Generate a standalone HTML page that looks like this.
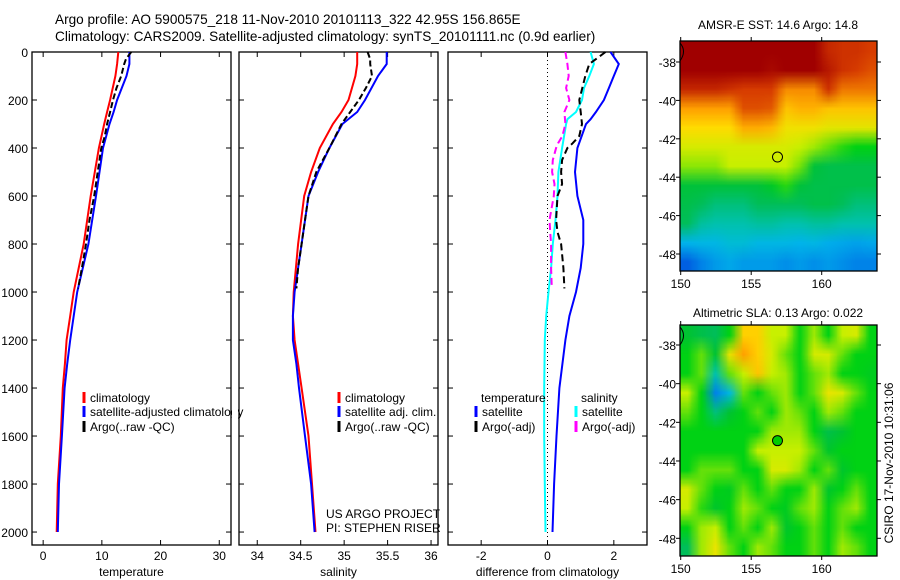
<!DOCTYPE html>
<html><head><meta charset="utf-8"><style>
html,body{margin:0;padding:0;background:#fff;width:900px;height:580px;overflow:hidden}
svg{display:block;font-family:"Liberation Sans",sans-serif}
canvas{position:absolute}
</style></head><body>
<canvas id="sst" style="left:680px;top:41px" width="197" height="230"></canvas>
<canvas id="sla" style="left:680px;top:325px" width="197" height="231"></canvas>
<svg id="chart" width="900" height="580" style="position:absolute;left:0;top:0">
<text x="55" y="24" font-size="13.6">Argo profile: AO 5900575_218 11-Nov-2010 20101113_322 42.95S 156.865E</text>
<text x="55" y="41" font-size="13.6">Climatology: CARS2009. Satellite-adjusted climatology: synTS_20101111.nc (0.9d earlier)</text>
<text x="778" y="29" font-size="12" text-anchor="middle">AMSR-E SST: 14.6 Argo: 14.8</text>
<text x="778" y="317" font-size="12" text-anchor="middle">Altimetric SLA: 0.13 Argo: 0.022</text>
<text transform="translate(893,463) rotate(-90)" font-size="12" text-anchor="middle">CSIRO 17-Nov-2010 10:31:06</text>
<text x="326" y="518" font-size="12">US ARGO PROJECT</text>
<text x="326" y="532" font-size="12">PI: STEPHEN RISER</text>
</svg>
<script>
// ---------- data ----------
const depthClim = [0,50,100,200,250,300,400,500,600,800,1000,1100,1200,1300,1400,1600,1800,2000];
const tempClim  = [12.8,12.6,12.3,11.4,10.9,10.4,9.5,8.8,8.1,6.9,5.2,4.6,4.0,3.7,3.35,3.0,2.5,2.3];
const tempSat   = [14.7,14.7,14.2,12.6,12.0,11.3,10.2,9.6,9.0,7.7,5.8,5.2,4.6,4.1,3.65,3.2,2.7,2.5];
const salClim   = [35.15,35.15,35.13,35.05,34.97,34.87,34.72,34.62,34.54,34.47,34.42,34.41,34.43,34.47,34.51,34.59,34.63,34.67];
const salSat    = [35.49,35.49,35.39,35.24,35.15,34.98,34.83,34.70,34.59,34.51,34.43,34.41,34.41,34.45,34.48,34.55,34.62,34.66];
const depthArgo = [0,30,50,100,150,200,250,300,350,400,500,600,700,800,900,985];
const tempArgo  = [15.0,14.1,13.8,13.3,12.5,11.9,11.4,10.9,10.5,9.9,9.3,8.7,7.9,7.3,6.6,5.96];
const salArgo   = [35.27,35.3,35.3,35.32,35.25,35.17,35.07,34.97,34.9,34.83,34.68,34.59,34.55,34.51,34.47,34.45];
const depthDiff = [0,50,100,150,200,250,280,300,400,500,600,700,800,900,1000,1100,1200,1400,1600,1800,2000];
const dTempSat  = [1.9,2.15,2.0,1.85,1.7,1.46,1.3,1.16,0.9,0.83,0.9,1.08,1.08,1.0,0.86,0.66,0.54,0.36,0.27,0.2,0.15];
const dSalSat   = [1.3,1.4,1.26,1.1,1.04,0.86,0.6,0.56,0.44,0.33,0.3,0.24,0.16,0.11,0.03,-0.04,-0.08,-0.1,-0.1,-0.08,-0.06];
const depthArgoDiff = [0,50,100,150,200,250,300,350,380,400,450,500,550,600,700,750,800,900,985];
const dTempArgo = [1.75,1.26,1.14,1.05,0.96,1.0,1.04,0.96,0.76,0.6,0.44,0.41,0.44,0.3,0.26,0.3,0.41,0.48,0.51];
const dSalArgo  = [0.54,0.6,0.64,0.56,0.66,0.51,0.54,0.45,0.32,0.26,0.16,0.14,0.21,0.19,0.06,0.08,0.11,0.11,0.13];
const depthTicks = [0,200,400,600,800,1000,1200,1400,1600,1800,2000];
const tempTicks = [0,10,20,30];
const salTicks = [34,34.5,35,35.5,36];
const salTickLabels = ["34","34.5","35","35.5","36"];
const diffTicks = [-2,0,2];
const latTicks = [-38,-40,-42,-44,-46,-48];
const lonTicks = [150,155,160];
const argoLon = 156.865, argoLat = -42.95;
const sstGrid = [
[1,1,1,1,1,1,1,1,1,1,0.92,0.9,0.9,0.88],
[1,1,1,1,1,1,0.98,1,1,1,0.95,0.9,0.88,0.86],
[0.92,0.92,0.92,0.9,0.88,0.88,0.88,0.8,0.8,0.8,0.9,0.82,0.82,0.82],
[0.78,0.78,0.78,0.78,0.86,0.86,0.85,0.72,0.75,0.75,0.72,0.72,0.72,0.72],
[0.68,0.68,0.68,0.68,0.76,0.76,0.74,0.66,0.66,0.66,0.64,0.64,0.64,0.64],
[0.62,0.62,0.62,0.62,0.62,0.62,0.62,0.62,0.6,0.58,0.55,0.52,0.5,0.5],
[0.57,0.57,0.57,0.6,0.6,0.6,0.6,0.6,0.56,0.44,0.42,0.42,0.42,0.42],
[0.44,0.44,0.44,0.44,0.44,0.44,0.47,0.52,0.44,0.42,0.42,0.42,0.42,0.42],
[0.42,0.4,0.38,0.38,0.38,0.4,0.4,0.4,0.4,0.42,0.42,0.4,0.38,0.38],
[0.4,0.36,0.35,0.35,0.35,0.36,0.36,0.35,0.35,0.36,0.36,0.35,0.35,0.35],
[0.28,0.29,0.29,0.31,0.31,0.29,0.29,0.29,0.28,0.29,0.27,0.26,0.25,0.26],
[0.14,0.2,0.24,0.26,0.24,0.24,0.24,0.22,0.24,0.22,0.24,0.22,0.2,0.2]];
const slaGrid = [
[0.45,0.42,0.4,0.5,0.7,0.7,0.6,0.6,0.5,0.58,0.5,0.6,0.62,0.5],
[0.5,0.55,0.45,0.65,0.78,0.7,0.62,0.55,0.5,0.62,0.62,0.55,0.5,0.5],
[0.5,0.55,0.35,0.55,0.6,0.72,0.6,0.58,0.5,0.55,0.58,0.5,0.5,0.48],
[0.6,0.5,0.2,0.3,0.55,0.5,0.55,0.58,0.5,0.55,0.65,0.62,0.55,0.5],
[0.55,0.5,0.38,0.45,0.5,0.55,0.5,0.58,0.55,0.5,0.58,0.55,0.5,0.5],
[0.5,0.5,0.5,0.5,0.5,0.5,0.58,0.58,0.58,0.5,0.42,0.45,0.5,0.5],
[0.5,0.5,0.5,0.5,0.5,0.6,0.6,0.6,0.6,0.55,0.46,0.5,0.5,0.5],
[0.5,0.55,0.55,0.55,0.5,0.5,0.62,0.62,0.58,0.5,0.55,0.46,0.5,0.5],
[0.62,0.55,0.5,0.48,0.55,0.5,0.55,0.5,0.5,0.58,0.46,0.5,0.55,0.5],
[0.6,0.52,0.46,0.5,0.58,0.55,0.5,0.48,0.55,0.58,0.5,0.55,0.58,0.5],
[0.5,0.58,0.6,0.5,0.55,0.5,0.58,0.46,0.5,0.55,0.5,0.55,0.5,0.5],
[0.4,0.58,0.65,0.55,0.5,0.58,0.55,0.5,0.5,0.55,0.5,0.58,0.55,0.5]];

// ---------- helpers ----------
const NS = "http://www.w3.org/2000/svg";
const svg = document.getElementById('chart');
function mk(tag, attrs){const e=document.createElementNS(NS,tag);for(const k in attrs)e.setAttribute(k,attrs[k]);svg.appendChild(e);return e;}
const PY0=52, PY1=545;
function yDepth(d){return PY0 + (d/2054)*(PY1-PY0);}
function makeX(x0,x1,v0,v1){return v=>x0+(v-v0)/(v1-v0)*(x1-x0);}
function profile(xf, vals, depths, color, dash, name){
  let pts=vals.map((v,i)=>xf(v).toFixed(1)+','+yDepth(depths[i]).toFixed(1)).join(' ');
  const p=mk('polyline',{points:pts,fill:'none',stroke:color,'stroke-width':2});
  if(dash)p.setAttribute('stroke-dasharray',dash);
  
  
}
function panel(x0,x1,xf,ticks,labels,xlabel,name,showY){
  const r=mk('rect',{x:x0,y:PY0,width:x1-x0,height:PY1-PY0,fill:'none',stroke:'#000','stroke-width':1.3});
  
  
  depthTicks.forEach(d=>{
    const y=yDepth(d);
    mk('line',{x1:x0,x2:x0+5,y1:y,y2:y,stroke:'#000'});
    mk('line',{x1:x1-5,x2:x1,y1:y,y2:y,stroke:'#000'});
    if(showY){const t=mk('text',{x:x0-4,y:y+5,'font-size':12,'text-anchor':'end'});t.textContent=d;
      
      }
  });
  ticks.forEach((v,i)=>{
    const x=xf(v);
    mk('line',{x1:x,x2:x,y1:PY1,y2:PY1-5,stroke:'#000'});
    mk('line',{x1:x,x2:x,y1:PY0,y2:PY0+5,stroke:'#000'});
    const t=mk('text',{x:x,y:560,'font-size':12,'text-anchor':'middle'});t.textContent=labels[i];
    
    
  });
  const t=mk('text',{x:(x0+x1)/2,y:576,'font-size':12,'text-anchor':'middle'});t.textContent=xlabel;
  
  
}
function legend(x,y,color,label,name){
  const l=mk('line',{x1:x-6,x2:x-6,y1:y-10,y2:y+1,stroke:color,'stroke-width':3});
  
  
  const t=mk('text',{x:x,y:y,'font-size':12});t.textContent=label;
  
  
}

const xT=makeX(32,231,-1.9,32);
panel(32,231,xT,tempTicks,tempTicks.map(String),'temperature','temperature-panel',true);
profile(xT,tempClim,depthClim,'#f00',null,'temp-climatology-line');
profile(xT,tempSat,depthClim,'#00f',null,'temp-satellite-line');
profile(xT,tempArgo,depthArgo,'#000','6,3','temp-argo-line');
legend(90,402,'#f00','climatology','legend-climatology');
legend(90,416,'#00f','satellite-adjusted climatology','legend-satellite-adjusted');
legend(90,431,'#000','Argo(..raw -QC)','legend-argo');
mk('rect',{x:232,y:405,width:6,height:14,fill:'#fff'});

const xS=makeX(239,438,33.79,36.08);
panel(239,438,xS,salTicks,salTickLabels,'salinity','salinity-panel',false);
profile(xS,salClim,depthClim,'#f00',null,'sal-climatology-line');
profile(xS,salSat,depthClim,'#00f',null,'sal-satellite-line');
profile(xS,salArgo,depthArgo,'#000','6,3','sal-argo-line');
legend(345,402,'#f00','climatology','legend-sal-climatology');
legend(345,416,'#00f','satellite adj. clim.','legend-sal-satellite');
legend(345,431,'#000','Argo(..raw -QC)','legend-sal-argo');

const xD=makeX(448,647,-3,3);
panel(448,647,xD,diffTicks,diffTicks.map(String),'difference from climatology','difference-panel',false);
const zl=mk('line',{x1:xD(0),x2:xD(0),y1:PY0,y2:PY1,stroke:'#000','stroke-dasharray':'1,3'});


profile(xD,dTempSat,depthDiff,'#00f',null,'diff-temp-satellite-line');
profile(xD,dSalSat,depthDiff,'#0ff',null,'diff-sal-satellite-line');
profile(xD,dTempArgo,depthArgoDiff,'#000','7,4','diff-temp-argo-line');
profile(xD,dSalArgo,depthArgoDiff,'#f0f','7,4','diff-sal-argo-line');
const lt=mk('text',{x:481,y:402,'font-size':12});lt.textContent='temperature';


const ls=mk('text',{x:581,y:402,'font-size':12});ls.textContent='salinity';


legend(482,416,'#00f','satellite','legend-diff-temp-satellite');
legend(482,431,'#000','Argo(-adj)','legend-diff-temp-argo');
legend(582,416,'#0ff','satellite','legend-diff-sal-satellite');
legend(582,431,'#f0f','Argo(-adj)','legend-diff-sal-argo');

const cstops=[[0,[0,30,160]],[0.15,[0,100,230]],[0.28,[0,180,235]],[0.34,[0,195,190]],[0.4,[0,190,90]],[0.45,[0,195,50]],[0.5,[0,210,20]],[0.6,[200,240,0]],[0.68,[255,220,0]],[0.78,[255,160,0]],[0.88,[215,60,0]],[1,[160,0,0]]];
function cmap(v){for(let i=1;i<cstops.length;i++){if(v<=cstops[i][0]){const a=cstops[i-1],b=cstops[i];const t=(v-a[0])/(b[0]-a[0]);return a[1].map((c,k)=>Math.round(c+(b[1][k]-c)*t));}}return cstops[cstops.length-1][1];}
function drawMap(id,grid){
  const cv=document.getElementById(id);const ctx=cv.getContext('2d');
  const rows=grid.length, cols=grid[0].length;
  const sm=document.createElement('canvas');sm.width=cols;sm.height=rows;
  const sctx=sm.getContext('2d');const img=sctx.createImageData(cols,rows);
  grid.forEach((row,r)=>row.forEach((v,c)=>{const col=cmap(v);const i=(r*cols+c)*4;img.data[i]=col[0];img.data[i+1]=col[1];img.data[i+2]=col[2];img.data[i+3]=255;}));
  sctx.putImageData(img,0,0);
  ctx.imageSmoothingEnabled=true;
  ctx.drawImage(sm,0,0,cv.width,cv.height);
}
drawMap('sst',sstGrid);
drawMap('sla',slaGrid);
function mapAxes(top,bottom,lat38y,latScale,name,filled){
  const x0=680,x1=877;
  const lonX=l=>680.7+(l-150)*14.1;
  const latY=l=>lat38y+(-38-l)*latScale;
  const r=mk('rect',{x:x0,y:top,width:x1-x0,height:bottom-top,fill:'none',stroke:'#000','stroke-width':1.3});
  
  
  latTicks.forEach(l=>{const y=latY(l);
    mk('line',{x1:x0-4,x2:x0,y1:y,y2:y,stroke:'#000'});
    mk('line',{x1:x1,x2:x1+4,y1:y,y2:y,stroke:'#000'});
    const t=mk('text',{x:x0-4,y:y+5,'font-size':12,'text-anchor':'end'});t.textContent=l;
    
    });
  lonTicks.forEach(l=>{const x=lonX(l);
    mk('line',{x1:x,x2:x,y1:top-4,y2:top,stroke:'#000'});
    mk('line',{x1:x,x2:x,y1:bottom,y2:bottom+4,stroke:'#000'});
    const t=mk('text',{x:x,y:bottom+17,'font-size':12,'text-anchor':'middle'});t.textContent=l;
    
    });
  const c=mk('circle',{cx:lonX(argoLon),cy:latY(argoLat),r:5,fill:filled?'#0c0':'none',stroke:'#000','stroke-width':1});
  
  
  const cl=mk('path',{d:`M${x0} ${top+2} Q${x0+7} ${top+10} ${x0} ${top+20}`,fill:'none',stroke:'#000','stroke-width':1});
  
  
}
mapAxes(41,271,62,19.2,'sst-map',false);
mapAxes(325,556,345,19.33,'sla-map',true);
</script>
</body></html>
